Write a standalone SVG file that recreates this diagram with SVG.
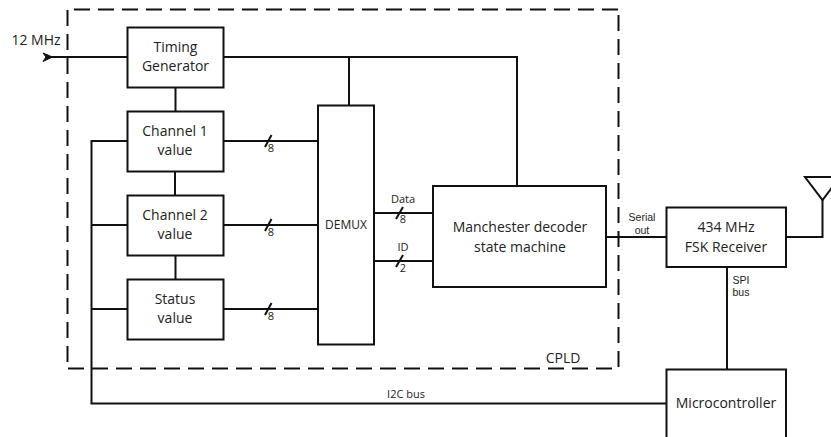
<svg xmlns="http://www.w3.org/2000/svg" width="831" height="437" viewBox="0 0 831 437">
<defs>
<style>
.b{fill:#fff;stroke:#111;stroke-width:2}
.c{fill:none;stroke:#111;stroke-width:2}
.d{fill:none;stroke:#111;stroke-width:2;stroke-dasharray:16 8}
text{font-family:"Open Sans","Noto Sans",sans-serif;fill:#222;text-anchor:middle}
.m{font-size:14px}
.s{font-size:11px}
text.t{font-family:"Liberation Sans",Arial,sans-serif;font-size:10.500px}
</style>
</defs>
<rect width="831" height="437" fill="#fff"/>
<g id="cpld">
<path class="d" d="M74 9.500H619"/>
<path class="d" d="M618.500 15V368"/>
<path class="d" d="M68 368.500H613"/>
<path class="d" d="M67.500 10V362"/>
<text class="m" x="563" y="363">CPLD</text>
</g>
<g id="connectors">
<path class="c" d="M50 57H127M223 57H517V186M349 57V105M175.500 87V111M175 171V195M175.500 255V279"/>
<path d="M43 53L52.500 57L43 61.500L46 57Z" fill="#111" stroke="#111"/>
<path class="c" d="M127 141H91.500V403.500H666M91.500 225H127M91.500 309H127"/>
<path class="c" d="M223 141H318M223 225H318M223 309H318M374 213H433M374 261H433"/>
<path class="c" d="M265 147L271.500 135M265 231L271.500 219M265 315L271.500 303M396 219L403 207M396 267L403 255"/>
<path class="c" d="M606 237H666M786 237H822.500V200M727 267V369"/>
<text class="s" x="271" y="152">8</text>
<text class="s" x="271" y="236">8</text>
<text class="s" x="271" y="320">8</text>
<text class="s" x="403" y="203">Data</text>
<text class="s" x="403" y="223">8</text>
<text class="s" x="403" y="251">ID</text>
<text class="s" x="403" y="272">2</text>
<text class="t" x="642" y="221">Serial</text>
<text class="t" x="642" y="233.500">out</text>
<text class="t" x="741" y="283.500">SPI</text>
<text class="t" x="741" y="296">bus</text>
<text class="s" x="406" y="398">I2C bus</text>
<text class="m" x="36" y="45">12 MHz</text>
</g>
<g id="timing"><rect class="b" x="127.500" y="27.500" width="96" height="60"/><text class="m" x="175.500" y="52">Timing</text><text class="m" x="175.500" y="71">Generator</text></g>
<g id="channel1"><rect class="b" x="127.500" y="111.500" width="96" height="60"/><text class="m" x="175" y="136">Channel 1</text><text class="m" x="175" y="155">value</text></g>
<g id="channel2"><rect class="b" x="127.500" y="195.500" width="96" height="60"/><text class="m" x="175" y="220">Channel 2</text><text class="m" x="175" y="239">value</text></g>
<g id="status"><rect class="b" x="127.500" y="279.500" width="96" height="60"/><text class="m" x="175" y="304">Status</text><text class="m" x="175" y="323">value</text></g>
<g id="demux"><rect class="b" x="318" y="105.500" width="56" height="239"/><text x="346" y="229" style="font-size:12px">DEMUX</text></g>
<g id="manchester"><rect class="b" x="433" y="186" width="173" height="101"/><text class="m" x="520" y="232">Manchester decoder</text><text class="m" x="520" y="252">state machine</text></g>
<g id="receiver"><rect class="b" x="666.500" y="207.500" width="119.500" height="59.500"/><text class="m" x="726" y="232">434 MHz</text><text class="m" x="726" y="252">FSK Receiver</text></g>
<g id="micro"><rect class="b" x="666.500" y="369.500" width="119.500" height="80"/><text class="m" x="726" y="408">Microcontroller</text></g>
<g id="antenna"><path class="c" d="M805 177H840L822.500 200Z"/></g>
</svg>
